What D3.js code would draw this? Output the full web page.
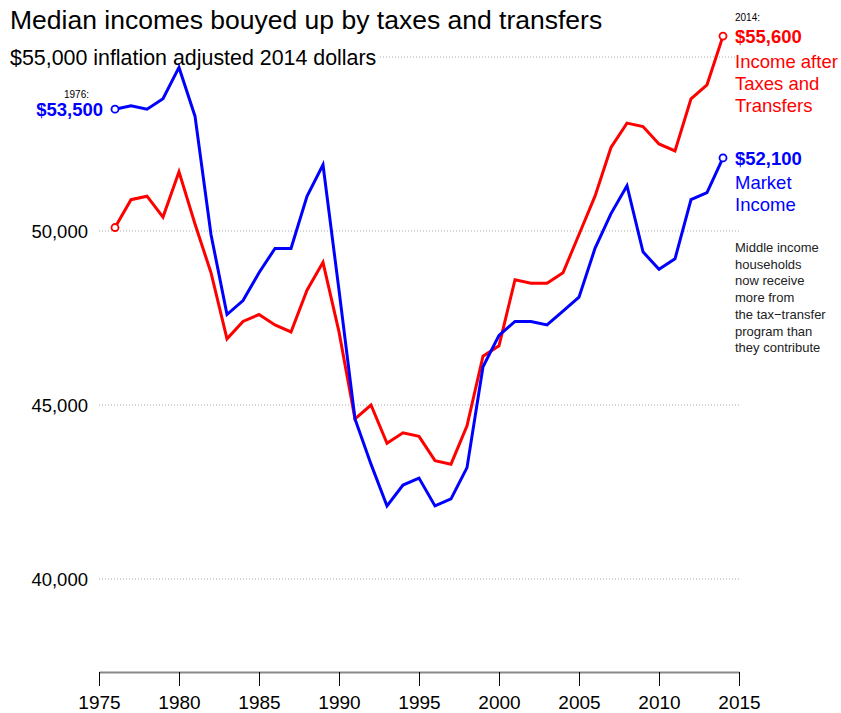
<!DOCTYPE html>
<html>
<head>
<meta charset="utf-8">
<script src="https://cdn.jsdelivr.net/npm/d3@7"></script>
<style>
body{margin:0;background:#fff;}
svg{font-family:"Liberation Sans",Arial,sans-serif;}
</style>
</head>
<body>
<div id="chart"></div>
<script>
// data (2014 dollars)
const years = d3.range(1976, 2015);
const marketIncome = [53500,53600,53500,53800,54700,53300,49900,47600,48000,48800,49500,49500,51000,51900,
  48300,44600,43300,42100,42700,42900,42100,42300,43200,46100,47000,47400,47400,47300,47700,48100,
  49500,50500,51300,49400,48900,49200,50900,51100,52100];
const afterTaxIncome = [50100,50900,51000,50400,51700,50200,48800,46900,47400,47600,47300,47100,48300,49100,
  47100,44600,45000,43900,44200,44100,43400,43300,44400,46400,46700,48600,48500,48500,48800,49900,
  51000,52400,53100,53000,52500,52300,53800,54200,55600];
const yTicks = [40000,45000,50000,55000];
const xTicks = d3.range(1975, 2016, 5);
const noteLines = ["Middle income","households","now receive","more from","the tax\u2212transfer","program than","they contribute"];

const width = 841, height = 713;
const svg = d3.select("#chart").append("svg")
  .attr("width", width)
  .attr("height", height);

const x = d3.scaleLinear().domain([1975, 2015]).range([99, 739]);
const y = d3.scaleLinear().domain([40000, 55000]).range([579, 57]);

// title
svg.append("text").attr("x", 10).attr("y", 29)
  .style("font-size", "26.5px").attr("fill", "#000")
  .text("Median incomes bouyed up by taxes and transfers");
svg.append("text").attr("x", 10).attr("y", 65)
  .style("font-size", "21.4px").attr("fill", "#000")
  .text("$55,000 inflation adjusted 2014 dollars");

// gridlines
svg.append("g").selectAll("line")
  .data(yTicks)
  .join("line")
    .attr("x1", d => d == 55000 ? 380 : 99)
    .attr("x2", 739)
    .attr("y1", d => y(d)).attr("y2", d => y(d))
    .attr("stroke", "#aaa")
    .attr("stroke-width", 1)
    .attr("stroke-dasharray", "1,2");

svg.append("g").selectAll("text")
  .data(yTicks.filter(d => d < 55000))
  .join("text")
    .attr("x", 88)
    .attr("y", d => y(d) + 7)
    .attr("text-anchor", "end")
    .style("font-size", "18.5px")
    .text(d => d3.format(",")(d));

// x axis
const xAxis = svg.append("g")
  .attr("transform", "translate(0,672)")
  .call(d3.axisBottom(x).tickValues(xTicks).tickFormat(d3.format("d")).tickSize(14).tickSizeOuter(0));
xAxis.select(".domain").attr("stroke", "#888").attr("stroke-width", 2);
xAxis.selectAll(".tick line").attr("stroke", "#000");
xAxis.selectAll(".tick text").style("font-size", "19px")
  .style("font-family", "'Liberation Sans',Arial,sans-serif").attr("dy", "0.9em").attr("y", 20);

// lines
const line = d3.line().x((d, i) => x(years[i])).y(d => y(d));
svg.append("path").datum(afterTaxIncome)
  .attr("d", line).attr("fill", "none")
  .attr("stroke", "#ff0000").attr("stroke-width", 3).attr("stroke-linejoin", "miter");
svg.append("path").datum(marketIncome)
  .attr("d", line).attr("fill", "none")
  .attr("stroke", "#0000ff").attr("stroke-width", 3).attr("stroke-linejoin", "miter");

// end circles
const last = years.length - 1;
[[marketIncome, "#0000ff"], [afterTaxIncome, "#ff0000"]].forEach(function(s){
  [0, last].forEach(function(i){
    svg.append("circle")
      .attr("cx", x(years[i])).attr("cy", y(s[0][i]))
      .attr("r", 3.5).attr("fill", "#fff")
      .attr("stroke", s[1]).attr("stroke-width", 1.8);
  });
});

// start label
svg.append("text").attr("x", 89).attr("y", 98)
  .attr("text-anchor", "end").style("font-size", "10px").text(years[0] + ":");
svg.append("text").attr("x", 103).attr("y", y(marketIncome[0]) + 7)
  .attr("text-anchor", "end").style("font-size", "18.5px").style("font-weight", "bold")
  .attr("fill", "#0000ff").text("$" + d3.format(",")(marketIncome[0]));

// end labels
const lx = 735;
svg.append("text").attr("x", lx).attr("y", 21)
  .style("font-size", "10px").text(years[last] + ":");
svg.append("text").attr("x", lx).attr("y", y(afterTaxIncome[last]) + 7)
  .style("font-size", "18.5px").style("font-weight", "bold")
  .attr("fill", "#ff0000").text("$" + d3.format(",")(afterTaxIncome[last]));
svg.append("text").attr("fill", "#ff0000").style("font-size", "18.5px")
  .selectAll("tspan").data(["Income after", "Taxes and", "Transfers"])
  .join("tspan").attr("x", lx).attr("y", (d, i) => 68 + i * 22).text(d => d);

svg.append("text").attr("x", lx).attr("y", y(marketIncome[last]) + 7)
  .style("font-size", "18.5px").style("font-weight", "bold")
  .attr("fill", "#0000ff").text("$" + d3.format(",")(marketIncome[last]));
svg.append("text").attr("fill", "#0000ff").style("font-size", "18.5px")
  .selectAll("tspan").data(["Market", "Income"])
  .join("tspan").attr("x", lx).attr("y", (d, i) => 189 + i * 22).text(d => d);

svg.append("text").attr("fill", "#222").style("font-size", "13px")
  .selectAll("tspan").data(noteLines)
  .join("tspan").attr("x", lx).attr("y", (d, i) => 252 + i * 16.7).text(d => d);
</script>
</body>
</html>
